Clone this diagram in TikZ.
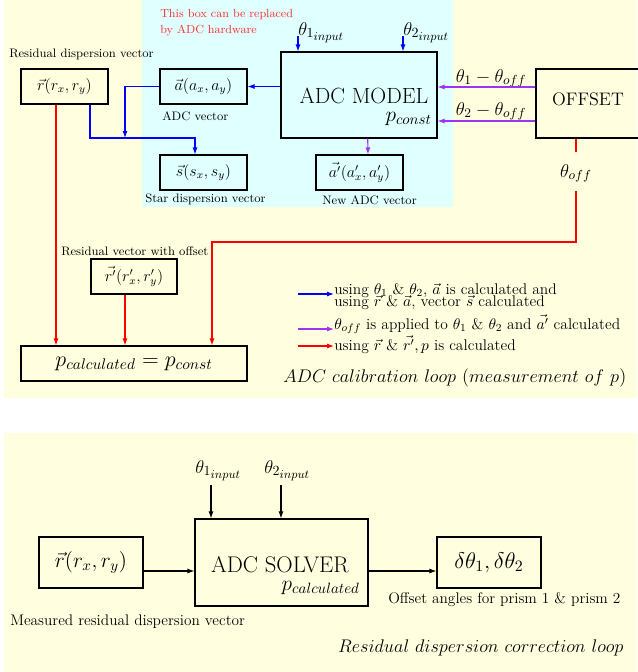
\RequirePackage{fix-cm}
\documentclass[tikz,border=0pt]{standalone}
\usetikzlibrary{arrows.meta}
\definecolor{bgY}{RGB}{255,255,224}
\definecolor{bgC}{RGB}{224,255,255}
\definecolor{txtR}{RGB}{255,45,45}
\definecolor{purp}{RGB}{160,50,240}
\DeclareMathSizes{13.9}{13.9}{10.5}{9}
\newdimen\pxu \pxu=0.75pt
\begin{document}
\begin{tikzpicture}[x=0.75pt,y=-0.75pt,
  fsz/.style={font=\fontsize{#1}{#1}\selectfont},
  box/.style={draw=black, line width=0.8pt, inner sep=0pt},
  arr/.style={-{Latex[length=5.25pt,width=3.75pt]}, line width=0.8pt},
  lbl/.style={fsz=9.2, inner sep=0pt, anchor=base west},
  blbl/.style={fsz=11.5, inner sep=0pt, anchor=base west},
  txt/.style={inner sep=0pt, anchor=base}]
\useasboundingbox (0,0) rectangle (637,672);
% backgrounds
\fill[bgY] (4,0) rectangle (637,398);
\fill[bgC] (142,0) rectangle (453,207);
\fill[bgY] (4,433) rectangle (637,672);

% ===== top loop =====
\node[txt, fsz=8.8, text=txtR, anchor=base west] (note1) at (160,17) {This box can be replaced};
\node[txt, fsz=8.8, text=txtR, anchor=base west] (note2) at (160,33) {by ADC hardware};

\node[box, minimum width=87\pxu, minimum height=35\pxu, fsz=12] (r) at (64.5,86.5) {$\vec{r}(r_x,r_y)$};
\node[lbl] (rlab) at (9,57) {Residual dispersion vector};
\node[box, minimum width=87\pxu, minimum height=35\pxu, fsz=12] (a) at (203.5,86.5) {$\vec{a}(a_x,a_y)$};
\node[lbl] (alab) at (162,120) {ADC vector};
\node[box, minimum width=87\pxu, minimum height=35\pxu, fsz=12] (s) at (203.5,172.5) {$\vec{s}(s_x,s_y)$};
\node[lbl] (slab) at (145,202) {Star dispersion vector};

\node[box, minimum width=156\pxu, minimum height=86\pxu] (model) at (359,95) {};
\node[txt, fsz=16.5] (mt) at (364,103) {ADC MODEL};
\node[txt, fsz=16, anchor=base east] (mp) at (432,121) {$p_{const}$};
\node[box, minimum width=87\pxu, minimum height=35\pxu, fsz=12] (ap) at (359.5,172.5) {$\vec{a'}(a'_x,a'_y)$};
\node[lbl] (aplab) at (322,204) {New ADC vector};

\node[txt, fsz=13.9, anchor=base west] (t1) at (298,35) {$\theta_{1_{input}}$};
\node[txt, fsz=13.9, anchor=base west] (t2) at (403,35) {$\theta_{2_{input}}$};
\coordinate (t1s) at (298,36);
\coordinate (t2s) at (403,36);

\node[box, minimum width=110\pxu, minimum height=69\pxu] (offset) at (591,103.5) {};
\node[txt, fsz=13.6] (offt) at (588,105) {OFFSET};
\node[txt, fsz=14] (d1) at (491,82) {$\theta_1-\theta_{off}$};
\node[txt, fsz=14] (d2) at (491,115) {$\theta_2-\theta_{off}$};
\node[txt, fsz=14, inner sep=0pt] (thoff) at (576,177) {$\theta_{off}$};
\coordinate (thtop) at (576,152);
\coordinate (thbot) at (576,191);

\node[lbl] (rplab) at (61,255) {Residual vector with offset};
\node[box, minimum width=86\pxu, minimum height=35\pxu, fsz=12] (rp) at (134,276.5) {$\vec{r'}(r'_x,r'_y)$};
\node[box, minimum width=226\pxu, minimum height=35\pxu, fsz=16.5] (p) at (134,363.5) {$p_{calculated}=p_{const}$};

% connectors top
\draw[arr, blue] (t1s) -- (t1s |- model.north);
\draw[arr, blue] (t2s) -- (t2s |- model.north);
\draw[arr, blue] (model.west |- a.east) -- (a.east);
\coordinate (jn) at (125,138);
\draw[arr, blue] (a.west) -| (jn);
\draw[arr, blue] ([xshift=25.5\pxu]r.south) |- (jn) -| ([xshift=-8.5\pxu]s.north);
\draw[arr, purp] ([yshift=16.5\pxu]offset.west) -- ([yshift=16.5\pxu]offset.west -| model.east);
\draw[arr, purp] ([yshift=-17.5\pxu]offset.west) -- ([yshift=-17.5\pxu]offset.west -| model.east);
\draw[arr, purp] ([xshift=8.7\pxu]model.south) -- ([xshift=8.5\pxu]ap.north);
\draw[arr, red] ([xshift=-8.5\pxu]r.south) -- ([xshift=-78\pxu]p.north);
\draw[arr, red] ([xshift=-9\pxu]rp.south) -- ([xshift=-9\pxu]p.north);
\draw[line width=0.8pt, red] (thtop |- offset.south) -- (thtop);
\coordinate (rbend) at (212,242);
\draw[arr, red] (thbot) |- (rbend) -- ([xshift=78\pxu]p.north);

% legend
\coordinate (l1) at (298,294);
\coordinate (l2) at (298,329);
\coordinate (l3) at (298,346);
\node[txt, fsz=11.6, anchor=base west] (lg1a) at (334,294) {using $\theta_1$ \& $\theta_2$, $\vec{a}$ is calculated and};
\node[txt, fsz=11.6, anchor=base west] (lg1b) at (334,306) {using $\vec{r}$ \& $\vec{a}$, vector $\vec{s}$ calculated};
\node[txt, fsz=11.6, anchor=base west] (lg2) at (334,329) {$\theta_{off}$ is applied to $\theta_1$ \& $\theta_2$ and $\vec{a'}$ calculated};
\node[txt, fsz=11.6, anchor=base west] (lg3) at (334,350) {using $\vec{r}$ \& $\vec{r'}, p$ is calculated};
\draw[arr, blue] (l1) -- (l1 -| lg1a.west);
\draw[arr, purp] (l2) -- (l2 -| lg2.west);
\draw[arr, red] (l3) -- (l3 -| lg3.west);

\node[txt, fsz=13.7, anchor=base west] (cap1) at (283,382) {$ADC\ calibration\ loop\ (measurement\ of\ p)$};

% ===== bottom loop =====
\node[txt, fsz=13.9, anchor=base west] (b1) at (195,473) {$\theta_{1_{input}}$};
\node[txt, fsz=13.9, anchor=base west] (b2) at (264,473) {$\theta_{2_{input}}$};
\coordinate (b1s) at (211,485);
\coordinate (b2s) at (281,485);
\node[box, minimum width=104\pxu, minimum height=51\pxu, fsz=16] (rB) at (91,562.5) {$\vec{r}(r_x,r_y)$};
\node[box, minimum width=173\pxu, minimum height=87\pxu] (solver) at (281.5,562.5) {};
\node[txt, fsz=17] (st) at (280,572) {ADC SOLVER};
\node[txt, fsz=16, anchor=base east] (sp) at (360,590) {$p_{calculated}$};
\node[box, minimum width=104\pxu, minimum height=51\pxu, fsz=17] (dl) at (489,562.5) {$\delta\theta_1,\delta\theta_2$};
\node[blbl] (mlab) at (10,625) {Measured residual dispersion vector};
\node[blbl] (olab) at (388,603) {Offset angles for prism 1 \& prism 2};
\node[txt, fsz=13.7, anchor=base east] (cap2) at (624,652) {$Residual\ dispersion\ correction\ loop$};

\draw[arr] (b1s) -- (b1s |- solver.north);
\draw[arr] (b2s) -- (b2s |- solver.north);
\draw[arr] ([yshift=-8.5\pxu]rB.east) -- ([yshift=-8.5\pxu]rB.east -| solver.west);
\draw[arr] ([yshift=-8.5\pxu]solver.east) -- ([yshift=-8.5\pxu]solver.east -| dl.west);
\end{tikzpicture}
\end{document}
